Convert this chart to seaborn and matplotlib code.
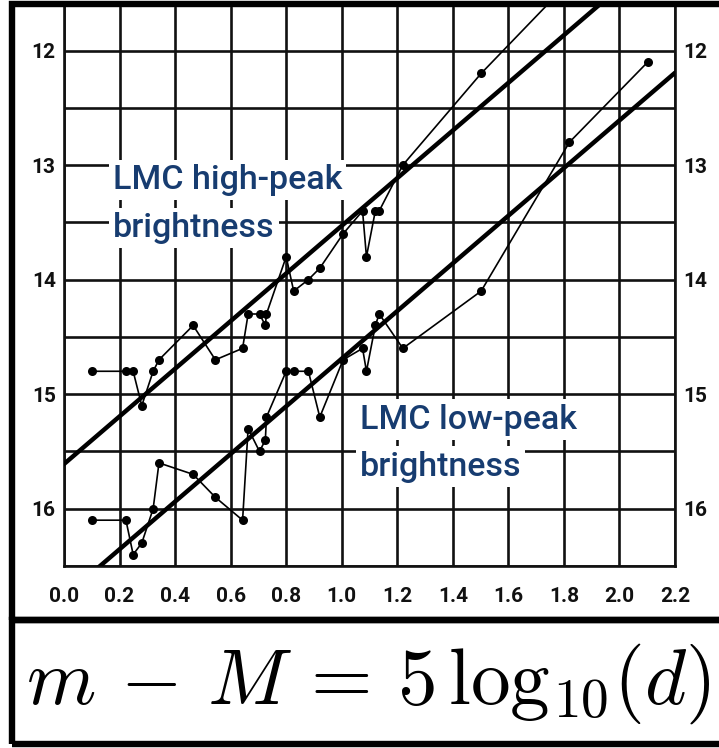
import matplotlib
matplotlib.use("Agg")
import matplotlib.pyplot as plt
from matplotlib.patches import Rectangle
import seaborn as sns
import pandas as pd
import numpy as np

# Cepheid light-curve extremes: log10(period in days) vs apparent magnitude
log_period = [0.100, 0.223, 0.249, 0.280, 0.321, 0.342, 0.465, 0.545, 0.643,
              0.663, 0.704, 0.725, 0.729, 0.800, 0.827, 0.880, 0.921, 1.005,
              1.075, 1.089, 1.121, 1.135, 1.220, 1.502, 1.820, 2.102]
mag_max = [14.8, 14.8, 14.8, 15.1, 14.8, 14.7, 14.4, 14.7, 14.6,
           14.3, 14.3, 14.4, 14.3, 13.8, 14.1, 14.0, 13.9, 13.6,
           13.4, 13.8, 13.4, 13.4, 13.0, 12.2, 11.4, 11.2]
mag_min = [16.1, 16.1, 16.4, 16.3, 16.0, 15.6, 15.7, 15.9, 16.1,
           15.3, 15.5, 15.4, 15.2, 14.8, 14.8, 14.8, 15.2, 14.7,
           14.6, 14.8, 14.4, 14.3, 14.6, 14.1, 12.8, 12.1]

# Straight-line period-luminosity fits (magnitude = intercept + slope * logP)
fit_intercepts = [15.61, 16.77]
fit_slope = -2.08
fit_x = [0.0, 2.2]

x_ticks = [0.0, 0.2, 0.4, 0.6, 0.8, 1.0, 1.2, 1.4, 1.6, 1.8, 2.0, 2.2]
x_tick_labels = ["0.0", "0.2", "0.4", "0.6", "0.8", "1.0", "1.2", "1.4",
                 "1.6", "1.8", "2.0", "2.2"]
y_ticks = [12.0, 12.5, 13.0, 13.5, 14.0, 14.5, 15.0, 15.5, 16.0, 16.5]
y_tick_labels = ["12", "", "13", "", "14", "", "15", "", "16", ""]

label_high = ["LMC high-peak", "brightness"]
label_low = ["LMC low-peak", "brightness"]
equation = r"$m\,-\,M\,=\,5\,\mathrm{log}_{10}(d)$"

sns.set_style("white")
plt.rcParams["font.family"] = ["Roboto", "DejaVu Sans"]
plt.rcParams["mathtext.fontset"] = "cm"

W, H = 719, 748
fig = plt.figure(figsize=(W / 100, H / 100), dpi=100)
fig.patch.set_facecolor("white")

# plot panel in pixel terms: left 64, right 675, top 7, bottom 566
ax = fig.add_axes([64 / W, 1 - 566 / H, (675 - 64) / W, (566 - 7) / H])
ax.set_xlim(0.0, 2.2)
ax.set_ylim(16.5, 11.62)

df = pd.DataFrame({"log_period": log_period, "mag_max": mag_max,
                   "mag_min": mag_min})
for col in ["mag_max", "mag_min"]:
    sns.lineplot(data=df, x="log_period", y=col, ax=ax, sort=False,
                 estimator=None, color="black", linewidth=1.2, marker="o",
                 markersize=6.5, markeredgewidth=0, zorder=3)

for b in fit_intercepts:
    sns.lineplot(x=fit_x, y=[b + fit_slope * v for v in fit_x], ax=ax,
                 color="black", linewidth=3.2, zorder=3)

ax.set_xticks(x_ticks)
ax.set_xticklabels(x_tick_labels)
ax.set_yticks(y_ticks)
ax.set_yticklabels(y_tick_labels)
ax.set_xlabel("")
ax.set_ylabel("")
ax.grid(True, color="#111111", linewidth=1.9)
ax.tick_params(axis="both", length=0, labelsize=15, colors="#111111")
ax.tick_params(axis="y", labelright=True, pad=6)
ax.tick_params(axis="x", pad=15)
for lab in ax.get_xticklabels() + ax.get_yticklabels():
    lab.set_fontweight("bold")
for side in ["left", "right", "bottom"]:
    ax.spines[side].set_color("#111111")
    ax.spines[side].set_linewidth(1.9)
ax.spines["top"].set_visible(False)

# annotation labels with white backing per line
navy = "#173c70"
box = dict(boxstyle="square,pad=0.12", facecolor="white", edgecolor="none")
for text, x, y in [(label_high[0], 0.176, 13.21), (label_high[1], 0.176, 13.63),
                   (label_low[0], 1.065, 15.30), (label_low[1], 1.065, 15.71)]:
    ax.text(x, y, text, color=navy, fontsize=24.5, fontweight="medium",
            ha="left", va="baseline", bbox=box, zorder=6)

# outer frames around the chart panel and the formula panel
lw_frame = 4.6
fig.patches.append(Rectangle((11.5 / W, 1 - 619.5 / H), (740 - 11.5) / W,
                             (619.5 - 3.5) / H, transform=fig.transFigure,
                             fill=False, edgecolor="black", linewidth=lw_frame))
fig.patches.append(Rectangle((11.5 / W, 1 - 744 / H), (740 - 11.5) / W,
                             (744 - 619.5) / H, transform=fig.transFigure,
                             fill=False, edgecolor="black", linewidth=lw_frame))

fig.text(26 / W, 1 - 704 / H, equation, fontsize=57, ha="left",
         va="baseline", color="black")

fig.savefig("out.png", dpi=100)
